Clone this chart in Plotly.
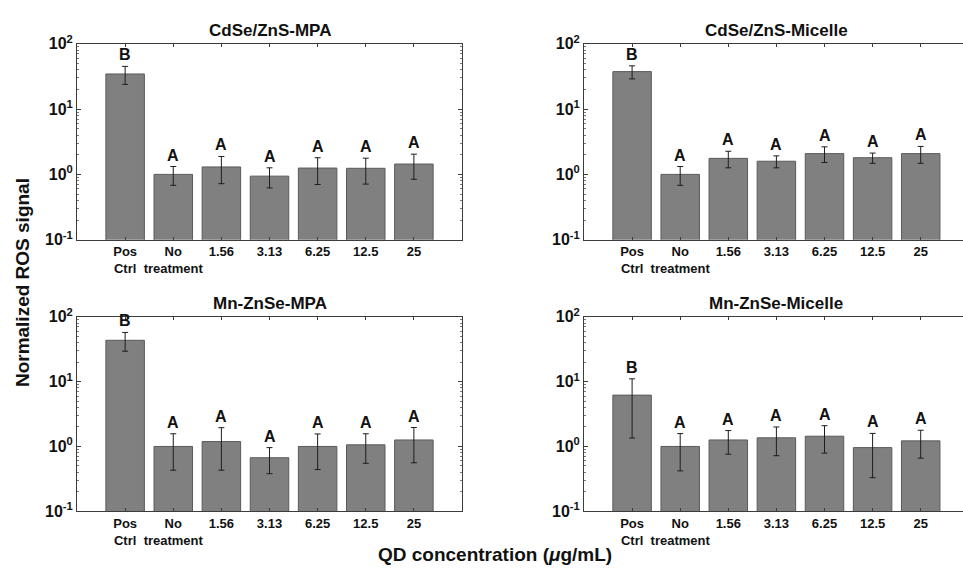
import numpy as np
import plotly.graph_objects as go

# Categories shared by all four panels
categories = ["Pos<br>Ctrl", "No<br>treatment", "1.56", "3.13", "6.25", "12.5", "25"]

# Panel titles
titles = ["CdSe/ZnS-MPA", "CdSe/ZnS-Micelle", "Mn-ZnSe-MPA", "Mn-ZnSe-Micelle"]

# Normalized ROS signal (mean) and error (+/-) per panel
cdse_mpa_mean = [34.5, 1.00, 1.30, 0.94, 1.25, 1.24, 1.44]
cdse_mpa_err = [10.6, 0.32, 0.58, 0.32, 0.55, 0.53, 0.60]

cdse_mic_mean = [37.5, 1.00, 1.76, 1.59, 2.08, 1.80, 2.08]
cdse_mic_err = [8.5, 0.32, 0.50, 0.33, 0.56, 0.32, 0.60]

mnzn_mpa_mean = [43.5, 1.00, 1.19, 0.67, 1.00, 1.06, 1.26]
mnzn_mpa_err = [14.0, 0.57, 0.76, 0.29, 0.56, 0.51, 0.70]

mnzn_mic_mean = [6.2, 1.00, 1.26, 1.36, 1.44, 0.96, 1.22]
mnzn_mic_err = [4.85, 0.58, 0.50, 0.64, 0.65, 0.63, 0.56]

# Statistical grouping letters
cdse_mpa_grp = ["B", "A", "A", "A", "A", "A", "A"]
cdse_mic_grp = ["B", "A", "A", "A", "A", "A", "A"]
mnzn_mpa_grp = ["B", "A", "A", "A", "A", "A", "A"]
mnzn_mic_grp = ["B", "A", "A", "A", "A", "A", "A"]

means = [cdse_mpa_mean, cdse_mic_mean, mnzn_mpa_mean, mnzn_mic_mean]
errs = [cdse_mpa_err, cdse_mic_err, mnzn_mpa_err, mnzn_mic_err]
groups = [cdse_mpa_grp, cdse_mic_grp, mnzn_mpa_grp, mnzn_mic_grp]

W, H = 963, 569
FONT = "Liberation Sans"
AX = "#3c3c3c"

# pixel layout of the four axes boxes
left_dom = [77 / W, 462 / W]
right_dom = [584 / W, 1.0]
top_dom = [1 - 237 / H, 1 - 34 / H]
bot_dom = [1 - 518.5 / H, 1 - 317 / H]
step_px = 48.1
right_xmax = (W - 584) / step_px

doms = [(left_dom, top_dom), (right_dom, top_dom), (left_dom, bot_dom), (right_dom, bot_dom)]
xpos = list(range(1, len(categories) + 1))

minor_vals = [m * 10.0 ** d for d in (-1, 0, 1) for m in range(2, 10)]

fig = go.Figure()
annotations = []

for i in range(4):
    n = i + 1
    xa = "x" if n == 1 else f"x{n}"
    ya = "y" if n == 1 else f"y{n}"
    is_right = i in (1, 3)
    fig.add_trace(go.Bar(
        x=xpos, y=means[i], xaxis=xa, yaxis=ya, width=0.8,
        marker=dict(color="#808080", line=dict(color="#5a5a5a", width=1)),
        error_y=dict(type="data", array=errs[i], color="#1e1e1e", thickness=1, width=3),
        showlegend=False, hoverinfo="skip",
    ))
    xd, yd = doms[i]
    xr = [0, right_xmax] if is_right else [0, 8]
    fig.layout[f"xaxis{'' if n == 1 else n}"] = dict(
        domain=xd, range=xr, anchor=ya,
        tickmode="array", tickvals=xpos, ticktext=categories,
        ticks="inside", ticklen=3, tickcolor=AX, tickwidth=1,
        showline=True, linecolor=AX, linewidth=1, mirror="ticks",
        showgrid=False, zeroline=False, fixedrange=True,
        tickfont=dict(family=FONT, size=13, color="#111", weight="bold"),
    )
    fig.layout[f"yaxis{'' if n == 1 else n}"] = dict(
        domain=yd, type="log", range=[-1, 2], anchor=xa,
        tickmode="array", tickvals=[0.1, 1, 10, 100],
        ticktext=["10<sup>-1</sup>", "10<sup>0</sup>", "10<sup>1</sup>", "10<sup>2</sup>"],
        ticks="inside", ticklen=4, tickcolor=AX, tickwidth=1,
        minor=dict(tickvals=minor_vals, ticks="inside", ticklen=2, tickcolor="#777", showgrid=False),
        showline=True, linecolor=AX, linewidth=1,
        mirror=False if is_right else "ticks",
        showgrid=False, zeroline=False, fixedrange=True,
        tickfont=dict(family=FONT, size=16, color="#111", weight="bold"),
    )
    # panel title centred over the full category span
    annotations.append(dict(
        text=f"<b>{titles[i]}</b>", xref=xa, yref="paper", x=4, y=yd[1],
        yanchor="bottom", xanchor="center", yshift=2, showarrow=False,
        font=dict(family=FONT, size=17, color="#111"),
    ))
    # grouping letters above the error bars (log axis -> log10 coordinates)
    for k in range(len(categories)):
        top = means[i][k] + errs[i][k]
        annotations.append(dict(
            text=f"<b>{groups[i][k]}</b>", xref=xa, yref=ya, x=xpos[k], y=np.log10(top),
            yanchor="bottom", xanchor="center", yshift=1, showarrow=False,
            font=dict(family=FONT, size=16, color="#111"),
        ))

annotations.append(dict(
    text="<b>Normalized ROS signal</b>", xref="paper", yref="paper",
    x=22 / W, y=1 - 282 / H, textangle=-90, showarrow=False,
    xanchor="center", yanchor="middle",
    font=dict(family=FONT, size=19, color="#111"),
))
annotations.append(dict(
    text="<b>QD concentration (<i>μ</i>g/mL)</b>", xref="paper", yref="paper",
    x=495 / W, y=0, showarrow=False, xanchor="center", yanchor="bottom", yshift=-7,
    font=dict(family=FONT, size=19, color="#111"),
))

fig.update_layout(
    width=W, height=H, margin=dict(l=0, r=0, t=0, b=0),
    paper_bgcolor="white", plot_bgcolor="white",
    annotations=annotations, bargap=0.2,
)

fig.write_html("out.html", config={"displayModeBar": False})
